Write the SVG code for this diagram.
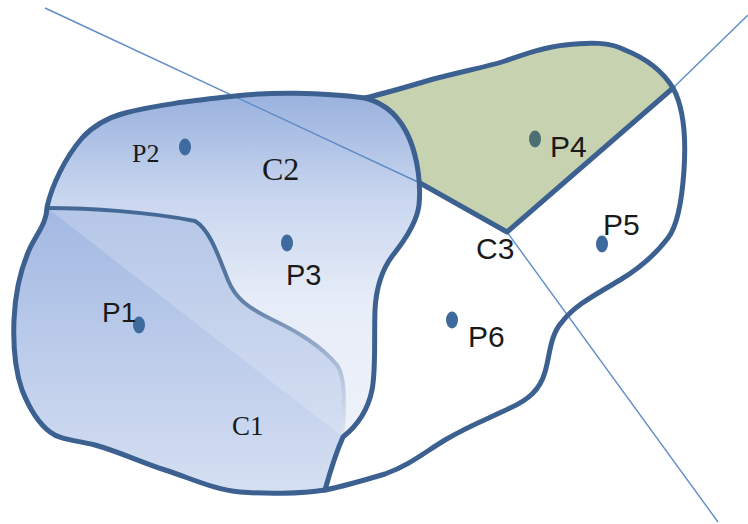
<svg xmlns="http://www.w3.org/2000/svg" width="748" height="524" viewBox="0 0 748 524">
  <defs>
    <linearGradient id="gC2" x1="0" y1="95" x2="0" y2="440" gradientUnits="userSpaceOnUse">
      <stop offset="0" stop-color="#9ab2de"/>
      <stop offset="0.3" stop-color="#c9d6ef"/>
      <stop offset="0.6" stop-color="#e7edf8"/>
      <stop offset="1" stop-color="#eef2fa"/>
    </linearGradient>
    <linearGradient id="gC1" x1="0" y1="205" x2="0" y2="492" gradientUnits="userSpaceOnUse">
      <stop offset="0" stop-color="#a2b8e2"/>
      <stop offset="1" stop-color="#d5dff2"/>
    </linearGradient>
    <linearGradient id="gC1edge" x1="200" y1="240" x2="345" y2="430" gradientUnits="userSpaceOnUse">
      <stop offset="0" stop-color="#456996"/>
      <stop offset="0.35" stop-color="#6582ab"/>
      <stop offset="0.7" stop-color="#9fb2cf"/>
      <stop offset="1" stop-color="#dbe3f0"/>
    </linearGradient>
    <clipPath id="clipC1">
      <path d="M47,208 C90,208 150,212 195,221 C210,230 218,255 228,280 C235,298 248,308 273,320 C298,332 320,345 337,365 C346,378 344,405 343,437 C335,455 330,472 325,490 C300,494 265,494 240,492 C215,490 190,478 165,470 C140,462 120,452 95,445 C75,440 60,440 50,432 C38,423 30,410 22,390 C15,370 13,345 14,320 C15,295 20,270 30,248 C38,232 47,222 47,208 Z"/>
    </clipPath>
    <style>
      .edge{fill:none;stroke:#3c6191;stroke-width:5;stroke-linejoin:round;stroke-linecap:round}
      .thin{fill:none;stroke:#5f8bc6;stroke-width:1.4}
      .dot{fill:#3e6a9e}
      .serif{font-family:"Liberation Serif","Times New Roman",serif;fill:#1a1a1a}
      .sans{font-family:"Liberation Sans",Arial,sans-serif;fill:#1a1a1a}
    </style>
  </defs>

  <!-- right (white) region C3 area -->
  <g id="region-right">
    <path fill="#ffffff" d="M365,98 C390,92 410,86 430,80 C460,72 490,66 505,61 C525,54 545,47 565,45 C590,42 610,42 625,50 C645,58 662,70 673,88 C685,110 686,140 684,170 C682,200 678,225 668,238 C655,255 640,268 620,280 C595,295 575,305 562,322 C550,335 550,355 545,372 C540,390 528,400 510,408 C490,418 470,425 445,440 C425,452 410,465 385,474 C365,480 345,486 325,490 L365,98 Z"/>
  </g>

  <!-- green region -->
  <g id="region-C3">
    <path fill="#c7d3b0" d="M365,98 C390,92 410,86 430,80 C460,72 490,66 505,61 C525,54 545,47 565,45 C590,42 610,42 625,50 C645,58 662,70 673,88 L507,232 L420,183 L370,160 L360,100 Z"/>
  </g>

  <!-- blue region C2 -->
  <g id="region-C2">
    <path fill="url(#gC2)" d="M365,98 C388,104 402,120 410,140 C418,160 421,185 419,205 C417,222 405,240 393,255 C380,272 376,290 375,310 C374,340 376,370 372,390 C368,410 358,425 343,437 C335,455 330,472 325,490 C300,494 265,494 240,492 C215,490 190,478 165,470 C140,462 120,452 95,445 C75,440 60,440 50,432 C38,423 30,410 22,390 C15,370 13,345 14,320 C15,295 20,270 30,248 C38,232 47,222 47,207 C52,185 65,158 82,138 C95,124 110,117 125,113 C160,104 200,100 235,96 C270,92 320,92 365,98 Z"/>
  </g>

  <!-- blue region C1 -->
  <g id="region-C1">
    <path fill="url(#gC1)" d="M47,208 C90,208 150,212 195,221 C210,230 218,255 228,280 C235,298 248,308 273,320 C298,332 320,345 337,365 C346,378 344,405 343,437 C335,455 330,472 325,490 C300,494 265,494 240,492 C215,490 190,478 165,470 C140,462 120,452 95,445 C75,440 60,440 50,432 C38,423 30,410 22,390 C15,370 13,345 14,320 C15,295 20,270 30,248 C38,232 47,222 47,208 Z"/>
    <polygon clip-path="url(#clipC1)" fill="#ffffff" fill-opacity="0.2" points="47,208 343,437 360,437 360,200 47,200"/>
    <path fill="none" stroke="url(#gC1edge)" stroke-width="4" stroke-linecap="round" d="M47,208 C90,208 150,212 195,221 C210,230 218,255 228,280 C235,298 248,308 273,320 C298,332 320,345 337,365 C346,378 344,405 343,437"/>
  </g>

  <!-- connectors: thin bisector lines -->
  <g id="connectors">
    <line class="thin" x1="45" y1="8" x2="420" y2="183"/>
    <line class="thin" x1="748" y1="15" x2="673" y2="88"/>
    <line class="thin" x1="507" y1="232" x2="718" y2="522"/>
  </g>

  <!-- outlines -->
  <g id="outlines">
    <path class="edge" d="M365,98 C390,92 410,86 430,80 C460,72 490,66 505,61 C525,54 545,47 565,45 C590,42 610,42 625,50 C645,58 662,70 673,88 C685,110 686,140 684,170 C682,200 678,225 668,238 C655,255 640,268 620,280 C595,295 575,305 562,322 C550,335 550,355 545,372 C540,390 528,400 510,408 C490,418 470,425 445,440 C425,452 410,465 385,474 C365,480 345,486 325,490 C300,494 265,494 240,492 C215,490 190,478 165,470 C140,462 120,452 95,445 C75,440 60,440 50,432 C38,423 30,410 22,390 C15,370 13,345 14,320 C15,295 20,270 30,248 C38,232 47,222 47,207 C52,185 65,158 82,138 C95,124 110,117 125,113 C160,104 200,100 235,96 C270,92 320,92 365,98 Z"/>
    <path class="edge" d="M365,98 C388,104 402,120 410,140 C418,160 421,185 419,205 C417,222 405,240 393,255 C380,272 376,290 375,310 C374,340 376,370 372,390 C368,410 358,425 343,437 C335,455 330,472 325,490"/>
    <polyline class="edge" points="420,183 507,232 673,88"/>
  </g>

  <!-- points -->
  <g id="P1"><ellipse class="dot" cx="139" cy="325" rx="6" ry="8.5"/><text class="sans" x="102" y="322" font-size="28">P1</text></g>
  <g id="P2"><ellipse class="dot" cx="185" cy="147" rx="6" ry="8.5"/><text class="serif" x="132" y="162" font-size="26">P2</text></g>
  <g id="P3"><ellipse class="dot" cx="287" cy="243" rx="6" ry="8.5"/><text class="sans" x="286" y="285" font-size="29">P3</text></g>
  <g id="P4"><ellipse cx="535" cy="139" rx="6" ry="8.5" fill="#4e6f72"/><text class="sans" x="550" y="157" font-size="30" fill="#3a3a2a">P4</text></g>
  <g id="P5"><ellipse class="dot" cx="602" cy="244" rx="6" ry="8.5"/><text class="sans" x="603" y="235" font-size="30">P5</text></g>
  <g id="P6"><ellipse class="dot" cx="452" cy="320" rx="6" ry="8.5"/><text class="sans" x="468" y="347" font-size="30">P6</text></g>

  <!-- region labels -->
  <g id="label-C1"><text class="serif" x="232" y="435" font-size="27">C1</text></g>
  <g id="label-C2"><text class="serif" x="262" y="180" font-size="32">C2</text></g>
  <g id="label-C3"><text class="sans" x="476" y="259" font-size="30">C3</text></g>
</svg>
